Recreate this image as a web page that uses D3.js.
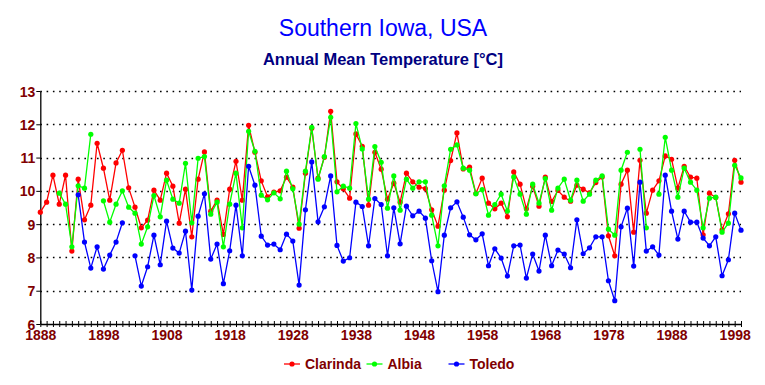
<!DOCTYPE html>
<html>
<head>
<meta charset="utf-8">
<script src="https://cdn.jsdelivr.net/npm/d3@7"></script>
<style>
  html, body { margin: 0; padding: 0; background: #ffffff; }
  svg { display: block; }
</style>
</head>
<body>
<svg id="chart" width="765" height="385"></svg>
<script>
const firstYear = 1888;
const lastYear = 1999;
const years = d3.range(firstYear, lastYear + 1);
const labelYears = [1888, 1898, 1908, 1918, 1928, 1938, 1948, 1958, 1968, 1978, 1988, 1998];
const yTicks = [6, 7, 8, 9, 10, 11, 12, 13];
const gridValues = [7, 8, 9, 10, 11, 12, 13];

const seriesNames = ["Clarinda", "Albia", "Toledo"];
const seriesColors = ["#ff0000", "#00ff00", "#0000ff"];

// values by year, 1888 .. 1999 (null = missing)
const clarinda = [
  9.36, 9.66, 10.47, 9.60, 10.47, 8.19, 10.35, 9.13, 9.57, 11.43,
  10.68, 9.72, 10.84, 11.22, 10.09, 9.51, 8.89, 9.12, 10.02, 9.72,
  10.53, 10.14, 9.03, 10.05, 8.62, 10.35, 11.17, 9.39, 9.72, 8.69,
  10.05, 10.89, 9.72, 11.97, 11.16, 10.30, 9.82, 9.96, 10.00, 10.41,
  10.11, 8.88, 10.53, 11.88, 10.38, 11.01, 12.39, 10.27, 10.06, 9.78,
  11.71, 11.34, 9.57, 11.16, 10.65, 9.75, 10.23, 9.66, 10.53, 10.27,
  10.11, 10.07, 9.43, 8.94, 10.02, 10.91, 11.74, 10.66, 10.71, 9.92,
  10.38, 9.63, 9.46, 9.63, 9.22, 10.57, 10.20, 9.46, 10.14, 9.54,
  10.41, 9.68, 10.01, 9.81, 9.69, 10.17, 10.05, 9.94, 10.25, 10.42,
  8.65, 8.05, 10.20, 10.62, 8.76, 10.92, 9.33, 10.02, 10.30, 11.05,
  10.95, 10.08, 10.74, 10.41, 10.38, 8.68, 9.93, 9.80, 8.83, 9.31,
  10.92, 10.26
];
const albia = [
  null, null, null, 9.93, 9.60, 8.32, 10.15, 10.08, 11.70, null,
  9.70, 9.06, 9.60, 10.00, 9.51, 9.33, 8.40, 8.92, 9.86, 9.22,
  10.32, 9.75, 9.63, 10.83, 9.04, 10.98, 11.03, 9.30, 9.66, 8.32,
  9.60, 10.53, 8.89, 11.79, 11.19, 9.87, 9.73, 9.94, 9.76, 10.59,
  10.06, 9.00, 10.59, 11.91, 10.35, 11.03, 12.21, 9.97, 10.14, 10.08,
  12.02, 11.26, 9.75, 11.33, 10.86, 9.48, 10.45, 9.42, 10.35, 10.08,
  10.27, 10.27, 9.27, 8.35, 10.15, 11.25, 11.38, 10.68, 10.62, 9.91,
  10.04, 9.27, 9.59, 9.90, 9.39, 10.42, 9.90, 9.30, 10.20, 9.63,
  10.37, 9.42, 10.08, 10.35, 9.72, 10.32, 9.69, 9.90, 10.32, 10.45,
  8.85, 8.67, 10.62, 11.16, null, 11.25, 8.89, null, 9.90, 11.61,
  10.62, 9.81, 10.68, 10.26, 10.02, 8.89, 9.78, 9.81, 8.76, 9.03,
  10.77, 10.39
];
const toledo = [
  null, null, null, null, null, null, 9.88, 8.46, 7.68, 8.32,
  7.65, 8.07, 8.46, 9.04, null, 8.05, 7.14, 7.72, 8.67, 7.78,
  9.09, 8.28, 8.13, 8.79, 7.02, 9.24, 9.91, 7.95, 8.40, 7.21,
  8.20, 9.57, 8.05, 10.74, 10.17, 8.64, 8.37, 8.40, 8.23, 8.70,
  8.49, 7.17, 9.43, 10.87, 9.07, 9.52, 10.45, 8.36, 7.89, 7.99,
  9.66, 9.53, 8.35, 9.77, 9.59, 8.05, 9.49, 8.41, 9.54, 9.25,
  9.39, 9.18, 7.90, 6.97, 8.67, 9.49, 9.67, 9.21, 8.68, 8.53,
  8.71, 7.75, 8.26, 7.98, 7.44, 8.35, 8.37, 7.38, 8.10, 7.59,
  8.67, 7.75, 8.22, 8.10, 7.69, 9.13, 8.11, 8.29, 8.62, 8.62,
  7.30, 6.70, 8.92, 9.48, 7.74, 10.26, 8.19, 8.32, 8.07, 10.47,
  9.39, 8.55, 9.39, 9.06, 9.06, 8.58, 8.35, 8.62, 7.45, 7.93,
  9.33, 8.82
];
const seriesValues = [clarinda, albia, toledo];

const svg = d3.select("#chart");
svg.append("rect").attr("width", 765).attr("height", 385).attr("fill", "#ffffff");

const x = d3.scaleLinear().domain([firstYear, lastYear]).range([40.3, 741]);
const y = d3.scaleLinear().domain([6, 13]).range([324, 91]);

// Titles
svg.append("text")
  .attr("x", 383).attr("y", 36)
  .attr("text-anchor", "middle")
  .attr("font-family", "Liberation Sans, Arial, sans-serif")
  .attr("font-size", 23)
  .attr("fill", "#0000ff")
  .text("Southern Iowa, USA");
svg.append("text")
  .attr("x", 383).attr("y", 65)
  .attr("text-anchor", "middle")
  .attr("font-family", "Liberation Sans, Arial, sans-serif")
  .attr("font-weight", "bold")
  .attr("font-size", 16.5)
  .attr("fill", "#000080")
  .text("Annual Mean Temperature [°C]");

// Gridlines (dotted)
svg.append("g").selectAll("line")
  .data(gridValues)
  .join("line")
  .attr("x1", x(firstYear)).attr("x2", x(lastYear))
  .attr("y1", d => Math.round(y(d)) + 0.5).attr("y2", d => Math.round(y(d)) + 0.5)
  .attr("stroke", "#000")
  .attr("stroke-width", 1.6)
  .attr("stroke-dasharray", "1.6,4.7");

const tickFont = "Liberation Sans Narrow, Arial Narrow, Liberation Sans, sans-serif";

// Y axis
const yAxis = svg.append("g")
  .attr("transform", `translate(${x(firstYear)},0)`)
  .call(d3.axisLeft(y).tickValues(yTicks).tickSizeInner(4).tickSizeOuter(0).tickPadding(1).tickFormat(d3.format("d")));
yAxis.select(".domain").attr("stroke", "#000").attr("stroke-width", 1.3);
yAxis.selectAll(".tick line").attr("stroke", "#000");
yAxis.selectAll("text")
  .attr("font-family", tickFont).attr("font-weight", "bold").attr("font-size", 14)
  .attr("fill", "#800000").attr("dy", "0.36em");

// X axis
const xAxis = svg.append("g")
  .attr("transform", `translate(0,${y(6)})`)
  .call(d3.axisBottom(x).tickValues(years).tickSizeInner(3).tickSizeOuter(0)
    .tickFormat(d => labelYears.includes(d) ? String(d) : ""));
xAxis.select(".domain").attr("stroke", "#000").attr("stroke-width", 1.3);
xAxis.selectAll(".tick line").attr("y1", -3).attr("y2", 3).attr("stroke", "#000");
xAxis.selectAll("text")
  .attr("y", 6).attr("dy", "0.71em")
  .attr("font-family", tickFont).attr("font-weight", "bold").attr("font-size", 14)
  .attr("fill", "#800000");

// Series
const line = d3.line()
  .defined(d => d.v !== null)
  .x(d => x(d.year))
  .y(d => y(d.v));

seriesValues.forEach((vals, i) => {
  const data = years.map((yr, k) => ({ year: yr, v: vals[k] }));
  const g = svg.append("g");
  g.append("path")
    .datum(data)
    .attr("fill", "none")
    .attr("stroke", seriesColors[i])
    .attr("stroke-width", 1.3)
    .attr("d", line);
  g.selectAll("circle")
    .data(data.filter(d => d.v !== null))
    .join("circle")
    .attr("cx", d => x(d.year))
    .attr("cy", d => y(d.v))
    .attr("r", 2.6)
    .attr("fill", seriesColors[i]);
});

// Legend
const legendX = [292, 374.5, 456.5];
const legendY = 364;
const lg = svg.append("g");
seriesNames.forEach((name, i) => {
  const cx = legendX[i];
  lg.append("line")
    .attr("x1", cx - 8).attr("x2", cx + 8)
    .attr("y1", legendY).attr("y2", legendY)
    .attr("stroke", seriesColors[i]).attr("stroke-width", 1.3);
  lg.append("circle").attr("cx", cx).attr("cy", legendY).attr("r", 2.6).attr("fill", seriesColors[i]);
  lg.append("text")
    .attr("x", cx + 13).attr("y", legendY + 5)
    .attr("font-family", tickFont).attr("font-weight", "bold").attr("font-size", 14)
    .attr("fill", "#800000")
    .text(name);
});
</script>
</body>
</html>
